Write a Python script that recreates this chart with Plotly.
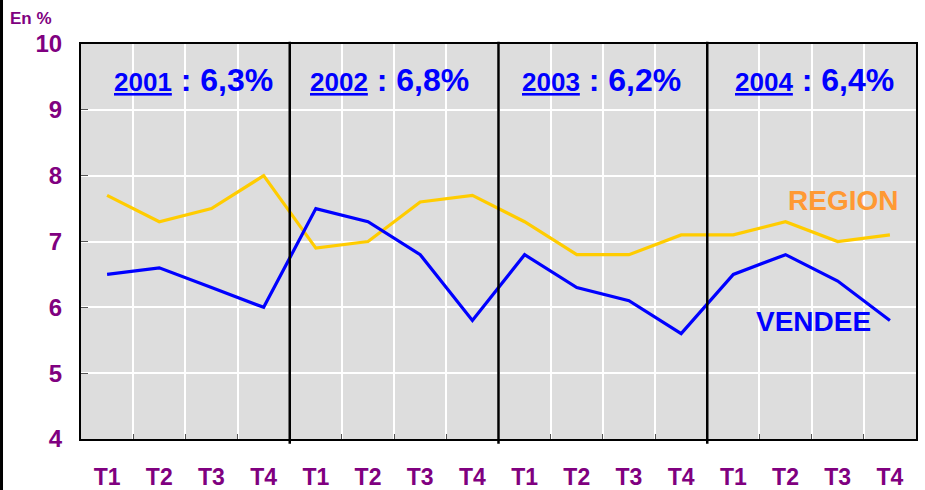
import plotly.graph_objects as go

quarters = ["T1", "T2", "T3", "T4"] * 4
vendee = [6.5, 6.6, 6.3, 6.0, 7.5, 7.3, 6.8, 5.8, 6.8, 6.3, 6.1, 5.6, 6.5, 6.8, 6.4, 5.8]
region = [7.7, 7.3, 7.5, 8.0, 6.9, 7.0, 7.6, 7.7, 7.3, 6.8, 6.8, 7.1, 7.1, 7.3, 7.0, 7.1]
years = ["2001", "2002", "2003", "2004"]
rates = ["6,3%", "6,8%", "6,2%", "6,4%"]
y_ticks = [4, 5, 6, 7, 8, 9, 10]

FONT = "Liberation Sans, Arial, sans-serif"
PURPLE = "#800080"
BLUE = "#0000FF"

xs = list(range(len(quarters)))

fig = go.Figure()
fig.add_trace(go.Scatter(x=xs, y=region, mode="lines", line=dict(color="#FFCC00", width=3.2),
                         name="REGION", showlegend=False))
fig.add_trace(go.Scatter(x=xs, y=vendee, mode="lines", line=dict(color=BLUE, width=3.2),
                         name="VENDEE", showlegend=False))

# year separators
for k in range(1, len(years)):
    fig.add_shape(type="line", xref="x", yref="paper", x0=4 * k - 0.5, x1=4 * k - 0.5,
                  y0=-0.012, y1=1.006, line=dict(color="black", width=2.5))

# year annotations
ann_x = [1.65, 5.42, 9.48, 13.55]
for yr, rt, ax in zip(years, rates, ann_x):
    fig.add_annotation(x=ax, y=9.45, xref="x", yref="y", showarrow=False,
                       text=f"<u><span style='font-size:26px'>{yr}</span></u> : {rt}",
                       font=dict(family=FONT, size=32, color=BLUE, weight="bold"))

fig.add_annotation(x=14.1, y=7.63, xref="x", yref="y", showarrow=False, text="REGION",
                   font=dict(family=FONT, size=28, color="#FF9933", weight="bold"))
fig.add_annotation(x=13.53, y=5.78, xref="x", yref="y", showarrow=False, text="VENDEE",
                   font=dict(family=FONT, size=28, color=BLUE, weight="bold"))

fig.add_annotation(x=-0.0874, y=1.064, xref="paper", yref="paper", showarrow=False, text="En %",
                   xanchor="left", yanchor="middle",
                   font=dict(family=FONT, size=17, color=PURPLE, weight="bold"))

# left page border
fig.add_shape(type="line", xref="paper", yref="paper", x0=-0.0952, x1=-0.0952, y0=-0.2, y1=1.2,
              line=dict(color="black", width=3))

fig.update_xaxes(range=[-0.5, len(quarters) - 0.5], tickmode="array", tickvals=xs, ticktext=quarters,
                 showgrid=False, zeroline=False, showline=True, linecolor="black", linewidth=2,
                 mirror=True, ticks="", ticklabelstandoff=16, automargin=False,
                 tickfont=dict(family=FONT, size=23, color=PURPLE, weight="bold"),
                 minor=dict(tickmode="array", tickvals=[k + 0.5 for k in range(len(quarters) - 1)],
                            showgrid=True, gridcolor="white", gridwidth=1.5,
                            ticks="inside", ticklen=5, tickcolor="#555555"))
fig.update_yaxes(range=[4, 10], tickmode="array", tickvals=y_ticks,
                 showgrid=True, gridcolor="white", gridwidth=1.5, zeroline=False,
                 showline=True, linecolor="black", linewidth=2, mirror=True, automargin=False,
                 ticks="inside", ticklen=7, tickcolor="#555555", ticklabelstandoff=12,
                 tickfont=dict(family=FONT, size=24, color=PURPLE, weight="bold"))

fig.update_layout(width=925, height=490, margin=dict(l=81, r=9, t=44, b=51),
                  plot_bgcolor="#DDDDDD", paper_bgcolor="white", showlegend=False)

fig.write_html("out.html", config={"displayModeBar": False},
               post_script="document.body.style.margin='0';document.body.style.overflow='hidden';")
